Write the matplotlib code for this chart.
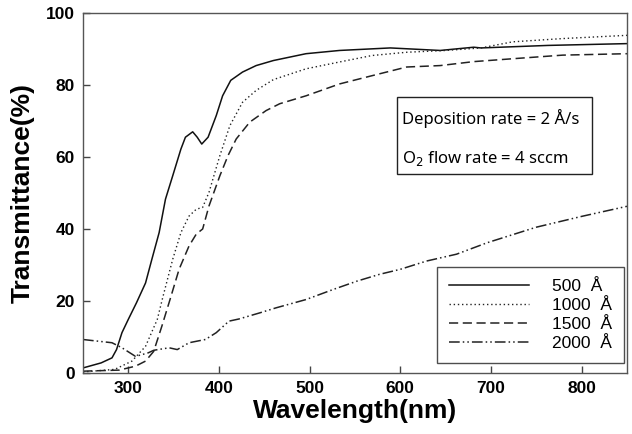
import matplotlib.pyplot as plt

# --- Data (wavelength nm, transmittance %) ---
wl_500 = [250, 270, 282, 287, 293, 300, 309, 319, 326, 334, 341, 349, 358, 363, 371, 376, 381,
          388, 397, 404, 413, 426, 441, 460, 496, 533, 589, 644, 681, 689, 763, 850]
t_500 = [1.4, 2.8, 4.2, 6.5, 11.2, 14.9, 19.5, 25.0, 31.6, 39.0, 48.3, 54.8, 62.2, 65.5, 67.0, 65.5, 63.6,
         65.5, 71.5, 77.0, 81.3, 83.6, 85.4, 86.8, 88.7, 89.6, 90.3, 89.6, 90.5, 90.3, 91.0, 91.5]

wl_1000 = [250, 285, 304, 319, 332, 338, 349, 358, 367, 375, 382, 389, 401, 412,
           426, 441, 460, 496, 533, 569, 607, 650, 689, 724, 779, 850]
t_1000 = [0.3, 1.0, 3.3, 7.4, 14.9, 21.0, 31.6, 39.0, 43.6, 45.5, 46.0, 50.2, 60.4, 68.7,
          75.2, 78.5, 81.5, 84.5, 86.4, 88.2, 89.1, 89.6, 90.3, 92.0, 92.9, 93.8]

wl_1500 = [250, 290, 308, 319, 328, 337, 346, 356, 367, 375, 382, 389, 401, 410,
           419, 434, 452, 467, 496, 533, 569, 607, 644, 681, 724, 779, 850]
t_1500 = [0.5, 0.8, 1.9, 3.3, 6.0, 13.0, 20.4, 28.8, 35.3, 38.6, 40.0, 46.4, 54.8, 60.4,
          65.0, 69.7, 72.9, 74.8, 77.0, 80.3, 82.6, 85.0, 85.4, 86.5, 87.3, 88.3, 88.7]

wl_2000 = [250, 282, 293, 308, 322, 328, 345, 354, 367, 385, 397, 411, 422,
           445, 463, 496, 526, 552, 577, 600, 629, 662, 696, 750, 800, 850]
t_2000 = [9.3, 8.4, 7.0, 4.6, 5.6, 6.3, 7.0, 6.5, 8.4, 9.3, 11.2, 14.4, 15.0,
          16.7, 18.1, 20.4, 23.2, 25.5, 27.4, 28.8, 31.1, 33.0, 36.2, 40.5, 43.5, 46.3]

labels = ["500  Å", "1000  Å", "1500  Å", "2000  Å"]
x_ticks = [300, 400, 500, 600, 700, 800]
y_ticks = [0, 20, 40, 60, 80, 100]

plt.rcParams['font.family'] = ['Liberation Sans', 'DejaVu Sans']

fig = plt.figure(figsize=(6.32, 4.34), dpi=100)
ax = fig.add_axes([0.1313, 0.1406, 0.8607, 0.8294])

ax.plot(wl_500, t_500, color='#111111', lw=1.1, ls='-', label=labels[0])
ax.plot(wl_1000, t_1000, color='#222222', lw=1.0, ls=(0, (1, 2)), label=labels[1])
ax.plot(wl_1500, t_1500, color='#222222', lw=1.1, ls=(0, (6, 3)), label=labels[2])
ax.plot(wl_2000, t_2000, color='#222222', lw=1.1, ls=(0, (7, 2, 1, 2, 1, 2)), label=labels[3])

ax.set_xlim(250, 850)
ax.set_ylim(0, 100)
ax.set_xticks(x_ticks)
ax.set_yticks(y_ticks)
ax.tick_params(direction='in', length=5, width=1, color='#444444', labelsize=12.5, pad=6)
for lbl in ax.get_xticklabels() + ax.get_yticklabels():
    lbl.set_fontweight('bold')
for sp in ax.spines.values():
    sp.set_color('#555555')
    sp.set_linewidth(1.0)

ax.set_xlabel("Wavelength(nm)", fontsize=19, fontweight='bold', labelpad=2)
ax.set_ylabel("Transmittance(%)", fontsize=19, fontweight='bold', labelpad=8)

leg = ax.legend(loc='lower right', bbox_to_anchor=(0.9945, 0.028), fontsize=12.5,
                frameon=True, fancybox=False, handlelength=4.6, handletextpad=1.3,
                labelspacing=0.22, borderpad=0.7, borderaxespad=0)
leg.get_frame().set_edgecolor('#222222')
leg.get_frame().set_linewidth(1.0)

ax.text(602, 70.6, "Deposition rate = 2 Å/s", fontsize=12, family=['Noto Sans', 'DejaVu Sans'],
        va='center', ha='left')
ax.text(602, 59.6, "O$_2$ flow rate = 4 sccm", fontsize=12, family=['Noto Sans', 'DejaVu Sans'],
        va='center', ha='left')
box = plt.Rectangle((596, 55.3), 216, 21.3, fill=False, ec='#222222', lw=1.0)
ax.add_patch(box)

fig.savefig("out.png", dpi=100)
